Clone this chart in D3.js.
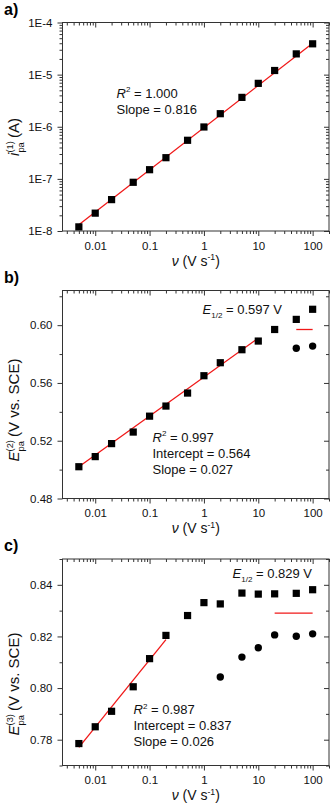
<!DOCTYPE html>
<html>
<head>
<meta charset="utf-8">
<script src="https://cdn.jsdelivr.net/npm/d3@7"></script>
<style>
  body { margin: 0; background: #fff; }
  svg { display: block; font-family: Arial, "Liberation Sans", sans-serif; }
  .tick text { font-size: 11.5px; fill: #111; }
  .tick line { stroke: #333; }
</style>
</head>
<body>
<div id="chart"></div>
<script>
// scan rates (V s-1)
var scanRates = [0.005, 0.01, 0.02, 0.05, 0.1, 0.2, 0.5, 1, 2, 5, 10, 20, 50, 100];

// a) first anodic peak current (A)
var peak1Current = [1.2e-8, 2.2e-8, 4.0e-8, 8.6e-8, 1.5e-7, 2.55e-7, 5.5e-7, 9.9e-7, 1.78e-6, 3.66e-6, 6.8e-6, 1.2e-5, 2.5e-5, 3.9e-5];
var fitLine1 = [[0.005, 1.32e-8], [100, 4.0e-5]];

// b) second peak potential (V vs. SCE)
var peak2Potential = [0.502, 0.509, 0.518, 0.526, 0.537, 0.544, 0.553, 0.565, 0.574, 0.583, 0.589, 0.597, 0.604, 0.611];
var peak2CircleRates = [50, 100];
var peak2Circle = [0.584, 0.5855];
var fitLine2 = [[0.005, 0.502], [10, 0.591]];
var halfLine2 = [[50, 0.597], [100, 0.597]];

// c) third peak potential (V vs. SCE)
var peak3Potential = [0.7785, 0.785, 0.791, 0.8005, 0.8114, 0.8204, 0.8281, 0.8331, 0.8326, 0.8368, 0.8364, 0.8365, 0.8367, 0.8381];
var peak3CircleRates = [2, 5, 10, 20, 50, 100];
var peak3Circle = [0.8043, 0.812, 0.8156, 0.8206, 0.8201, 0.821];
var fitLine3 = [[0.005, 0.777], [0.2, 0.8188]];
var halfLine3 = [[20, 0.829], [100, 0.829]];

var xTicks = [0.01, 0.1, 1, 10, 100];
var yTicks1 = [1e-8, 1e-7, 1e-6, 1e-5, 1e-4];
var yTicks2 = [0.48, 0.52, 0.56, 0.60];
var yMinor2 = [0.50, 0.54, 0.58, 0.62];
var yTicks3 = [0.78, 0.80, 0.82, 0.84];
var yMinor3 = [0.77, 0.79, 0.81, 0.83, 0.85];

var W = 331, H = 807;
var left = 62.5, right = 329;

var svg = d3.select('#chart').append('svg')
    .attr('width', W)
    .attr('height', H);

var x = d3.scaleLog().domain([0.0025, 200]).range([left, right]);

function logMinors(domain) {
  var out = [];
  for (var e = -10; e <= 5; e++) {
    for (var m = 2; m <= 9; m++) {
      var v = m * Math.pow(10, e);
      if (v >= domain[0] * 0.999 && v <= domain[1] * 1.001) out.push(v);
    }
  }
  return out;
}

// rich text helper: parts = [{t, italic, sup, sub, stack}]
function richText(sel, parts, size, supRise) {
  var small = size * 0.62;
  var rise = supRise || 0.42;
  var lastShift = 0, supLen = 0;
  parts.forEach(function (p) {
    var ts = sel.append('tspan').text(p.t);
    if (p.italic) ts.style('font-style', 'italic');
    var shift = 0;
    if (p.sup) { shift = -size * rise; ts.style('font-size', small + 'px'); }
    if (p.sub) { shift = size * 0.3; ts.style('font-size', small + 'px'); }
    ts.attr('dy', shift - lastShift);
    if (p.stack) ts.attr('dx', -supLen);
    lastShift = shift;
    if (p.sup) supLen = ts.node().getComputedTextLength();
  });
}

function noDomain(a) { a.select('.domain').remove(); }

function drawPanel(cfg) {
  var g = svg.append('g');
  var y = cfg.y;

  // bottom axis (outward)
  g.append('g')
      .attr('transform', 'translate(0,' + cfg.bottom + ')')
      .call(d3.axisBottom(x).tickValues(xTicks).tickSize(5).tickPadding(5.6)
        .tickFormat(function (d) { return String(d); }))
      .call(noDomain);
  g.append('g')
      .attr('transform', 'translate(0,' + cfg.bottom + ')')
      .call(d3.axisBottom(x).tickValues(logMinors(x.domain())).tickSize(3).tickFormat(''))
      .call(noDomain);

  // top axis (inward)
  g.append('g')
      .attr('transform', 'translate(0,' + cfg.top + ')')
      .call(d3.axisBottom(x).tickValues(xTicks).tickSize(5).tickFormat(''))
      .call(noDomain);
  g.append('g')
      .attr('transform', 'translate(0,' + cfg.top + ')')
      .call(d3.axisBottom(x).tickValues(logMinors(x.domain())).tickSize(3).tickFormat(''))
      .call(noDomain);

  // left axis (outward) with labels
  g.append('g')
      .attr('transform', 'translate(' + left + ',0)')
      .call(d3.axisLeft(y).tickValues(cfg.yTicks).tickSize(5).tickPadding(5).tickFormat(cfg.yFormat))
      .call(noDomain);
  g.append('g')
      .attr('transform', 'translate(' + left + ',0)')
      .call(d3.axisLeft(y).tickValues(cfg.yMinor).tickSize(3).tickFormat(''))
      .call(noDomain);

  // right axis (inward)
  g.append('g')
      .attr('transform', 'translate(' + right + ',0)')
      .call(d3.axisLeft(y).tickValues(cfg.yTicks).tickSize(5).tickFormat(''))
      .call(noDomain);
  g.append('g')
      .attr('transform', 'translate(' + right + ',0)')
      .call(d3.axisLeft(y).tickValues(cfg.yMinor).tickSize(3).tickFormat(''))
      .call(noDomain);

  // frame
  g.append('rect')
      .attr('x', left).attr('y', cfg.top)
      .attr('width', right - left).attr('height', cfg.bottom - cfg.top)
      .attr('fill', 'none').attr('stroke', '#333').attr('stroke-width', 1);

  var line = d3.line().x(function (d) { return x(d[0]); }).y(function (d) { return y(d[1]); });

  cfg.lines.forEach(function (l) {
    g.append('path')
        .attr('d', line(l))
        .attr('fill', 'none')
        .attr('stroke', '#f01818')
        .attr('stroke-width', 1.3);
  });

  // square markers
  g.append('g').selectAll('rect')
      .data(cfg.squares)
      .enter().append('rect')
      .attr('x', function (d, i) { return x(scanRates[i]) - 3.6; })
      .attr('y', function (d) { return y(d) - 3.6; })
      .attr('width', 7.2).attr('height', 7.2)
      .attr('fill', '#000');

  if (cfg.circles) {
    g.append('g').selectAll('circle')
        .data(cfg.circles.values)
        .enter().append('circle')
        .attr('cx', function (d, i) { return x(cfg.circles.rates[i]); })
        .attr('cy', function (d) { return y(d); })
        .attr('r', 3.7)
        .attr('fill', '#000');
  }

  // panel label
  svg.append('text')
      .attr('x', 4).attr('y', cfg.labelY)
      .style('font-size', '16px').style('font-weight', 'bold')
      .text(cfg.label);

  // x title
  var xt = g.append('text')
      .attr('x', (left + right) / 2).attr('y', cfg.bottom + 34.5)
      .attr('text-anchor', 'middle')
      .style('font-size', '14px').attr('fill', '#111');
  richText(xt, [{t: 'ν', italic: true}, {t: ' (V s'}, {t: '-1', sup: true}, {t: ')'}], 14, 0.36);

  // y title (rotated)
  var yt = g.append('text')
      .attr('transform', 'translate(19,' + cfg.yTitleY + ') rotate(-90)')
      .attr('text-anchor', 'middle')
      .style('font-size', '15px').attr('fill', '#111');
  richText(yt, cfg.yTitle, 15);

  // annotations
  cfg.notes.forEach(function (n) {
    var t = g.append('text')
        .attr('x', n.x).attr('y', n.y)
        .style('font-size', '13px').attr('fill', '#111');
    richText(t, n.parts, 13);
  });
}

drawPanel({
  label: 'a)', labelY: 15,
  top: 22.5, bottom: 231,
  y: d3.scaleLog().domain([1e-8, 1e-4]).range([231, 22.5]),
  yTicks: yTicks1,
  yMinor: logMinors([1e-8, 1e-4]),
  yFormat: function (d) { return '1E' + Math.round(Math.log10(d)); },
  squares: peak1Current,
  lines: [fitLine1],
  yTitleY: 137,
  yTitle: [{t: 'i', italic: true}, {t: '(1)', sup: true}, {t: 'pa', sub: true, stack: true}, {t: ' (A)'}],
  notes: [
    {x: 116.5, y: 97.5, parts: [{t: 'R', italic: true}, {t: '2', sup: true}, {t: ' = 1.000'}]},
    {x: 116.5, y: 114, parts: [{t: 'Slope = 0.816'}]}
  ]
});

drawPanel({
  label: 'b)', labelY: 283,
  top: 290.5, bottom: 498.5,
  y: d3.scaleLinear().domain([0.48, 0.624]).range([498.5, 290.5]),
  yTicks: yTicks2,
  yMinor: yMinor2,
  yFormat: d3.format('.2f'),
  squares: peak2Potential,
  circles: {rates: peak2CircleRates, values: peak2Circle},
  lines: [fitLine2, halfLine2],
  yTitleY: 410,
  yTitle: [{t: 'E', italic: true}, {t: '(2)', sup: true}, {t: 'pa', sub: true, stack: true}, {t: ' (V vs. SCE)'}],
  notes: [
    {x: 202.5, y: 314, parts: [{t: 'E', italic: true}, {t: '1/2', sub: true}, {t: ' = 0.597 V'}]},
    {x: 152.5, y: 441.5, parts: [{t: 'R', italic: true}, {t: '2', sup: true}, {t: ' = 0.997'}]},
    {x: 152.5, y: 457.5, parts: [{t: 'Intercept = 0.564'}]},
    {x: 152.5, y: 474, parts: [{t: 'Slope = 0.027'}]}
  ]
});

drawPanel({
  label: 'c)', labelY: 551,
  top: 559, bottom: 765.5,
  y: d3.scaleLinear().domain([0.77, 0.85]).range([765.5, 559]),
  yTicks: yTicks3,
  yMinor: yMinor3,
  yFormat: d3.format('.2f'),
  squares: peak3Potential,
  circles: {rates: peak3CircleRates, values: peak3Circle},
  lines: [fitLine3, halfLine3],
  yTitleY: 684,
  yTitle: [{t: 'E', italic: true}, {t: '(3)', sup: true}, {t: 'pa', sub: true, stack: true}, {t: ' (V vs. SCE)'}],
  notes: [
    {x: 232.5, y: 578, parts: [{t: 'E', italic: true}, {t: '1/2', sub: true}, {t: ' = 0.829 V'}]},
    {x: 133.5, y: 714, parts: [{t: 'R', italic: true}, {t: '2', sup: true}, {t: ' = 0.987'}]},
    {x: 133.5, y: 730, parts: [{t: 'Intercept = 0.837'}]},
    {x: 133.5, y: 746, parts: [{t: 'Slope = 0.026'}]}
  ]
});
</script>
</body>
</html>
